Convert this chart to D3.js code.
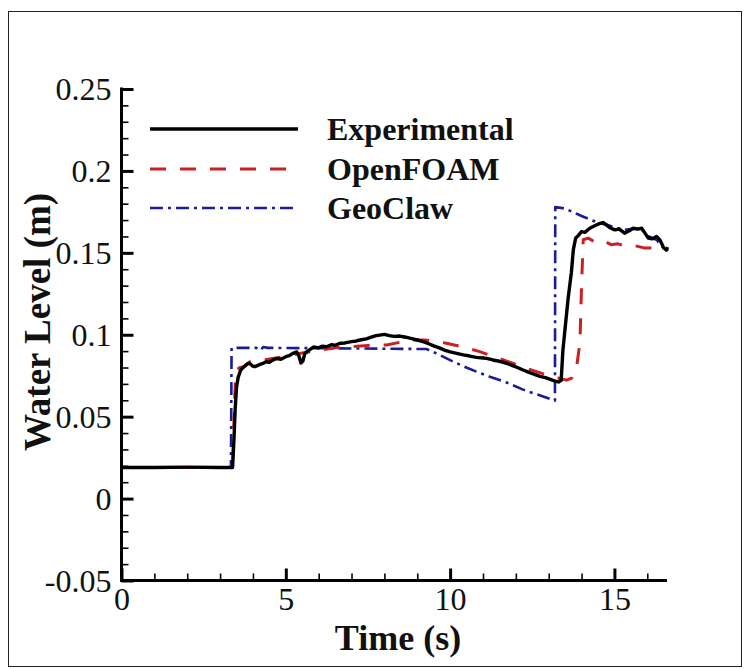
<!DOCTYPE html>
<html>
<head>
<meta charset="utf-8">
<script src="https://cdn.jsdelivr.net/npm/d3@7"></script>
<style>
  html, body { margin: 0; padding: 0; background: #fff; }
  svg { display: block; }
  text { font-family: "Liberation Serif", "Times New Roman", serif; fill: #111; }
</style>
</head>
<body>
<svg id="chart" width="746" height="669"></svg>
<script>
// Water level time series (time in s, level in m)
const expTime = [0, 1, 2, 3, 3.38, 3.42, 3.46, 3.5, 3.55, 3.62, 3.7, 3.78, 3.85, 3.92, 3.98, 4.05, 4.12, 4.2, 4.3, 4.4, 4.5, 4.6, 4.72, 4.85, 5.0, 5.1, 5.2, 5.33, 5.4, 5.46, 5.52, 5.58, 5.7, 5.84, 6.0, 6.1, 6.24, 6.4, 6.5, 6.65, 6.8, 7.0, 7.15, 7.26, 7.45, 7.6, 7.75, 7.86, 8.0, 8.15, 8.3, 8.47, 8.65, 8.8, 9.0, 9.18, 9.35, 9.5, 9.69, 9.85, 10.0, 10.2, 10.4, 10.6, 10.8, 11.0, 11.11, 11.3, 11.5, 11.72, 11.9, 12.05, 12.22, 12.4, 12.55, 12.73, 12.9, 13.05, 13.2, 13.3, 13.38, 13.43, 13.5, 13.59, 13.69, 13.75, 13.82, 13.9, 14.0, 14.1, 14.25, 14.4, 14.56, 14.65, 14.76, 14.85, 15.01, 15.15, 15.31, 15.45, 15.57, 15.7, 15.83, 15.93, 16.03, 16.15, 16.28, 16.38, 16.43, 16.5, 16.58, 16.62];
const expLevel = [0.019, 0.019, 0.0192, 0.019, 0.019, 0.035, 0.055, 0.068, 0.074, 0.078, 0.080, 0.0815, 0.0825, 0.0822, 0.081, 0.0805, 0.081, 0.0818, 0.0825, 0.0835, 0.0832, 0.0845, 0.0855, 0.085, 0.0866, 0.0872, 0.0885, 0.0895, 0.087, 0.0828, 0.084, 0.0886, 0.0905, 0.0925, 0.092, 0.093, 0.0927, 0.094, 0.0935, 0.0948, 0.095, 0.0958, 0.0962, 0.0968, 0.0975, 0.0985, 0.0995, 0.0998, 0.1002, 0.0995, 0.099, 0.0992, 0.0985, 0.0978, 0.0968, 0.0958, 0.0945, 0.0932, 0.0918, 0.0905, 0.0895, 0.0886, 0.0877, 0.087, 0.0862, 0.0858, 0.0856, 0.0846, 0.0838, 0.0826, 0.0812, 0.08, 0.0785, 0.077, 0.076, 0.0746, 0.0738, 0.0728, 0.0716, 0.0712, 0.0722, 0.09, 0.104, 0.122, 0.138, 0.152, 0.159, 0.1605, 0.163, 0.1625, 0.165, 0.1665, 0.168, 0.1685, 0.167, 0.1655, 0.164, 0.1645, 0.162, 0.1635, 0.165, 0.1645, 0.165, 0.162, 0.159, 0.1585, 0.16, 0.158, 0.156, 0.153, 0.1517, 0.1535];

const foamTime = [0, 3.38, 3.42, 3.47, 3.5, 3.6, 3.75, 3.9, 4.1, 4.3, 4.6, 4.9, 5.13, 5.5, 6.0, 6.5, 7.0, 7.5, 8.07, 8.5, 8.87, 9.2, 9.5, 9.89, 10.4, 10.9, 11.4, 11.9, 12.4, 12.93, 13.34, 13.54, 13.7, 13.85, 13.95, 14.0, 14.05, 14.2, 14.45, 14.7, 14.9, 15.1, 15.37, 15.6, 15.9, 16.28, 16.45, 16.6];
const foamLevel = [0.019, 0.019, 0.045, 0.075, 0.0785, 0.08, 0.0805, 0.0835, 0.084, 0.0845, 0.0855, 0.0865, 0.0876, 0.0888, 0.0905, 0.092, 0.0928, 0.0935, 0.0938, 0.0955, 0.0968, 0.0968, 0.0962, 0.0948, 0.0925, 0.0897, 0.0862, 0.0826, 0.079, 0.0755, 0.0734, 0.0723, 0.0735, 0.0805, 0.095, 0.13, 0.158, 0.159, 0.156, 0.157, 0.155, 0.1555, 0.154, 0.1545, 0.153, 0.1528, 0.152, 0.1515];

const geoTime = [0, 3.33, 3.35, 4.1, 4.22, 4.32, 4.45, 9.28, 9.6, 10.0, 10.4, 10.8, 11.21, 11.7, 12.22, 12.7, 13.19, 13.2, 13.5, 14.0, 14.3, 14.56, 14.8, 15.0, 15.3, 15.5, 15.77, 15.9, 16.05, 16.28, 16.45, 16.58, 16.62];
const geoLevel = [0.019, 0.019, 0.092, 0.092, 0.0905, 0.0925, 0.092, 0.0913, 0.0885, 0.0845, 0.0808, 0.0775, 0.0744, 0.071, 0.0665, 0.0632, 0.0598, 0.178, 0.177, 0.1725, 0.17, 0.168, 0.167, 0.1655, 0.164, 0.1645, 0.165, 0.163, 0.16, 0.158, 0.154, 0.1507, 0.152];

const seriesNames = ["Experimental", "OpenFOAM", "GeoClaw"];
const xTickValues = [0, 5, 10, 15];
const yTickValues = [-0.05, 0, 0.05, 0.1, 0.15, 0.2, 0.25];
const yTickLabels = ["-0.05", "0", "0.05", "0.1", "0.15", "0.2", "0.25"];

const svg = d3.select("#chart");

// outer frame
svg.append("rect")
  .attr("x", 8.5).attr("y", 11.5)
  .attr("width", 733).attr("height", 655)
  .attr("fill", "none").attr("stroke", "#222").attr("stroke-width", 1);

const x = d3.scaleLinear().domain([0, 16.6]).range([121.5, 667]);
const y = d3.scaleLinear().domain([-0.05, 0.25]).range([580.5, 89]);

const styles = [
  { color: "#000", width: 3.4, dash: null },
  { color: "#cc1f24", width: 3, dash: "16,14" },
  { color: "#1c1c94", width: 2.6, dash: "13,5,3,5" }
];

const series = [
  { t: expTime, v: expLevel },
  { t: foamTime, v: foamLevel },
  { t: geoTime, v: geoLevel }
];

const line = d3.line().x(d => x(d[0])).y(d => y(d[1]));

// draw simulation curves beneath the measurement
[2, 1, 0].forEach(i => {
  const s = series[i];
  const pts = s.t.map((t, j) => [t, s.v[j]]);
  svg.append("path")
    .attr("d", line(pts))
    .attr("fill", "none")
    .attr("stroke", styles[i].color)
    .attr("stroke-width", styles[i].width)
    .attr("stroke-linejoin", "round")
    .attr("stroke-dasharray", styles[i].dash);
});

// axes: ticks point into the plot
const gx = svg.append("g").attr("transform", `translate(0,${y(-0.05)})`);
gx.call(d3.axisBottom(x).tickValues(d3.range(1, 17).filter(v => v % 5 !== 0)).tickSize(-7).tickFormat(""))
  .call(g => g.selectAll(".tick line").attr("stroke", "#000").attr("stroke-width", 1.6));
const gxMaj = svg.append("g").attr("transform", `translate(0,${y(-0.05)})`);
gxMaj.call(d3.axisBottom(x).tickValues(xTickValues).tickSize(-12).tickPadding(0).tickFormat(d3.format("d")))
  .call(g => g.selectAll(".tick line").attr("stroke", "#000").attr("stroke-width", 3))
  .call(g => g.selectAll(".tick text").attr("font-size", 32).attr("y", 0).attr("dy", 29).style("font-family", "'Liberation Serif', serif").attr("fill", "#111"));
[gx, gxMaj].forEach(g => g.select(".domain").remove());

const yMinor = d3.range(-4, 25).filter(k => k % 5 !== 0).map(k => k / 100);
const gy = svg.append("g").attr("transform", `translate(${x(0)},0)`);
gy.call(d3.axisLeft(y).tickValues(yMinor).tickSize(-7).tickFormat(""))
  .call(g => g.selectAll(".tick line").attr("stroke", "#000").attr("stroke-width", 1.6));
const gyMaj = svg.append("g").attr("transform", `translate(${x(0)},0)`);
gyMaj.call(d3.axisLeft(y).tickValues(yTickValues).tickSize(-12).tickPadding(10).tickFormat((d, i) => yTickLabels[i]))
  .call(g => g.selectAll(".tick line").attr("stroke", "#000").attr("stroke-width", 3))
  .call(g => g.selectAll(".tick text").attr("font-size", 32).attr("x", -10).attr("dy", "0.34em").style("font-family", "'Liberation Serif', serif").attr("fill", "#111"));
[gy, gyMaj].forEach(g => g.select(".domain").remove());

// axis lines
svg.append("line").attr("x1", x(0)).attr("x2", x(0)).attr("y1", y(0.25) - 1.5).attr("y2", y(-0.05) + 1.5)
  .attr("stroke", "#000").attr("stroke-width", 3);
svg.append("line").attr("x1", x(0) - 1.5).attr("x2", x(16.6)).attr("y1", y(-0.05)).attr("y2", y(-0.05))
  .attr("stroke", "#000").attr("stroke-width", 3);

// axis titles
svg.append("text").attr("x", 398).attr("y", 650).attr("text-anchor", "middle")
  .attr("font-size", 36).attr("font-weight", "bold").text("Time (s)");
svg.append("text").attr("transform", "translate(50,322) rotate(-90)").attr("text-anchor", "middle")
  .attr("font-size", 37).attr("font-weight", "bold").text("Water Level (m)");

// legend
const legendY = [129, 169, 208];
seriesNames.forEach((name, i) => {
  svg.append("line").attr("x1", 150).attr("x2", 298).attr("y1", legendY[i]).attr("y2", legendY[i])
    .attr("stroke", styles[i].color).attr("stroke-width", styles[i].width)
    .attr("stroke-dasharray", styles[i].dash);
  svg.append("text").attr("x", 327).attr("y", legendY[i] + 11)
    .attr("font-size", 32).attr("font-weight", "bold").text(name);
});
</script>
</body>
</html>
